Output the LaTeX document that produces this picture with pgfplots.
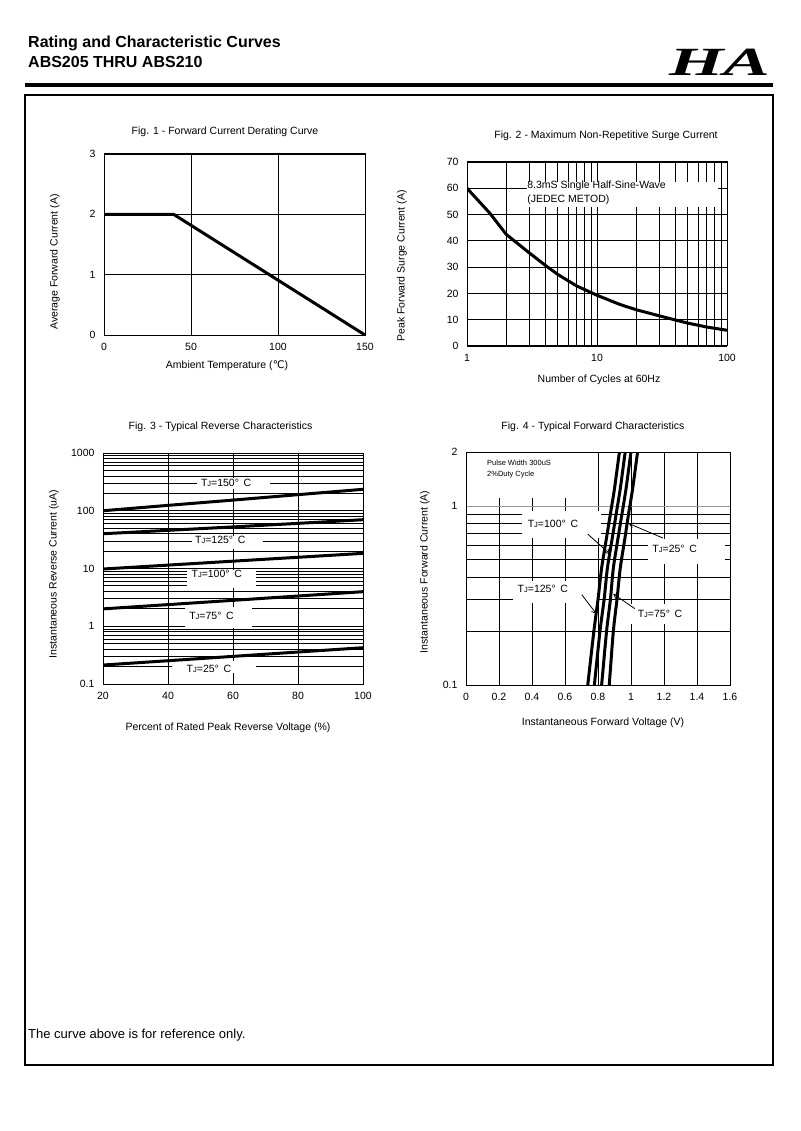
\documentclass[border=0pt]{standalone}
\usepackage{fontspec}
\setmainfont{Liberation Sans}
\newfontfamily\dejavu{DejaVu Sans}
\newfontfamily\logofont{Liberation Serif}
\usepackage{pgfplots}
\pgfplotsset{compat=1.18}
\usetikzlibrary{arrows.meta}

\newcommand\fs{\fontsize{10.5}{12.6}\selectfont}
\newcommand\TJ[1]{T{\fontsize{7.5}{9}\selectfont J}=#1°\hspace{0.45em}C}

\pgfplotsset{
  dsheet/.style={
    scale only axis,
    anchor=north west,
    axis line style={line width=1pt},
    grid=both,
    major grid style={black, line width=0.8pt},
    minor grid style={black, line width=0.8pt},
    major tick length=0pt, minor tick length=0pt,
    tick label style={font=\fs},
    /pgf/number format/assume math mode=true,
    xticklabel style={yshift=-5pt},
    yticklabel style={xshift=-5pt},
  },
  curve/.style={black, line width=3pt, no marks},
}
\tikzset{
  lbl/.style={font=\fs, inner sep=0pt},
  arr/.style={black, line width=0.8pt, -{Straight Barb[length=4pt,width=5pt]}},
}

\begin{document}
\begin{tikzpicture}
\path[use as bounding box] (0,0) rectangle (800pt,-1131pt);

% header
\node[anchor=west, inner sep=0, font=\bfseries\fontsize{16}{19}\selectfont] at (28pt,-43pt) {Rating and Characteristic Curves};
\node[anchor=west, inner sep=0, font=\bfseries\fontsize{16}{19}\selectfont] at (28pt,-62pt) {ABS205 THRU ABS210};
\node[inner sep=0, xscale=1.75, font=\logofont\bfseries\itshape\fontsize{40}{40}\selectfont] at (720pt,-62pt) {HA};
\draw[line width=3.5pt] (25pt,-85pt) -- (773pt,-85pt);
\draw[line width=1.3pt] (25pt,-95pt) rectangle (773pt,-1065pt);
\node[anchor=west, inner sep=0, font=\fontsize{13}{15}\selectfont] at (28pt,-1035pt) {The curve above is for reference only.};

% titles and axis labels
\node[font=\fs] at (225pt,-132pt) {Fig. 1 - Forward Current Derating Curve};
\node[font=\fs] at (606pt,-136pt) {Fig. 2 - Maximum Non-Repetitive Surge Current};
\node[font=\fs] at (220.5pt,-427pt) {Fig. 3 - Typical Reverse Characteristics};
\node[font=\fs] at (593pt,-427pt) {Fig. 4 - Typical Forward Characteristics};

\node[font=\fs] at (227pt,-366pt) {Ambient Temperature ({\dejavu ℃})};
\node[font=\fs] at (599pt,-380pt) {Number of Cycles at 60Hz};
\node[font=\fs] at (228pt,-728pt) {Percent of Rated Peak Reverse Voltage (\%)};
\node[font=\fs] at (603pt,-723pt) {Instantaneous Forward Voltage (V)};

\node[font=\fs, rotate=90] at (55pt,-262pt) {Average Forward Current (A)};
\node[font=\fs, rotate=90] at (402pt,-266pt) {Peak Forward Surge Current (A)};
\node[font=\fs, rotate=90] at (54pt,-574pt) {Instantaneous Reverse Current (uA)};
\node[font=\fs, rotate=90] at (425pt,-572pt) {Instantaneous Forward Current (A)};

% Fig. 1
\begin{axis}[dsheet, at={(104pt,-154pt)}, width=261pt, height=181pt,
  xmin=0, xmax=150, ymin=0, ymax=3,
  xtick={0,50,100,150}, ytick={0,1,2,3}]
\addplot[curve] coordinates {(0,2) (40,2) (150,0)};
\end{axis}

% Fig. 2
\begin{axis}[dsheet, at={(467pt,-162pt)}, width=260pt, height=184pt,
  xmode=log, xmin=1, xmax=100, ymin=0, ymax=70,
  xtick={1,10,100}, xticklabels={1,10,100},
  minor xtick={2,3,4,5,6,7,8,9,20,30,40,50,60,70,80,90},
  ytick={0,10,20,30,40,50,60,70}]
\fill[white] (axis cs:2.9,52.8) rectangle (axis cs:85,62.5);
\addplot[curve, line join=round] coordinates {
  (1,60) (1.5,50.5) (2,42.5) (3,35.5) (4,30.7) (5,27.2) (7,22.8) (10,19.3)
  (15,15.8) (20,13.8) (30,11.5) (40,9.9) (50,8.7) (70,7.2) (100,6)};
\node[lbl, anchor=west] at (axis cs:2.9,60.9) {8.3mS Single Half-Sine-Wave};
\node[lbl, anchor=west] at (axis cs:2.9,55.5) {(JEDEC METOD)};
\end{axis}

% Fig. 3
\begin{axis}[dsheet, at={(103pt,-453pt)}, width=260pt, height=231pt,
  ymode=log, xmin=20, xmax=100, ymin=0.1, ymax=1000,
  xtick={20,40,60,80,100},
  ytick={0.1,1,10,100,1000}, yticklabels={0.1,1,10,100,1000},
  minor ytick={0.2,0.3,0.4,0.5,0.6,0.7,0.8,0.9,2,3,4,5,6,7,8,9,
    20,30,40,50,60,70,80,90,200,300,400,500,600,700,800,900}]
\fill[white] (axis cs:48.9,238) rectangle (axis cs:71.4,369);
\fill[white] (axis cs:47.4,21.8) rectangle (axis cs:69.2,36.5);
\fill[white] (axis cs:45.8,4.63) rectangle (axis cs:67.1,9.6);
\fill[white] (axis cs:45.2,0.93) rectangle (axis cs:65.8,2.15);
\fill[white] (axis cs:41.2,0.155) rectangle (axis cs:67.1,0.25);
\addplot[curve] coordinates {(20,100) (40,124) (60,153) (80,190) (100,235)};
\addplot[curve] coordinates {(20,40) (40,45.8) (60,52.5) (80,60.5) (100,70)};
\addplot[curve] coordinates {(20,9.8) (40,11.45) (60,13.4) (80,15.65) (100,18.3)};
\addplot[curve] coordinates {(20,2.0) (40,2.37) (60,2.81) (80,3.34) (100,3.97)};
\addplot[curve] coordinates {(20,0.213) (40,0.253) (60,0.301) (80,0.358) (100,0.425)};
\node[lbl] at (axis cs:57.9,306) {\TJ{150}};
\node[lbl] at (axis cs:56.1,31.2) {\TJ{125}};
\node[lbl] at (axis cs:55.0,7.94) {\TJ{100}};
\node[lbl] at (axis cs:53.4,1.504) {\TJ{75}};
\node[lbl] at (axis cs:52.6,0.18) {\TJ{25}};
\end{axis}

% Fig. 4
\begin{axis}[dsheet, at={(466pt,-452pt)}, width=264pt, height=233pt,
  ymode=log, xmin=0, xmax=1.6, ymin=0.1, ymax=2,
  xtick={0,0.2,0.4,0.6,0.8,1,1.2,1.4,1.6},
  xticklabels={0,0.2,0.4,0.6,0.8,1,1.2,1.4,1.6},
  ytick={0.1,1,2}, yticklabels={0.1,1,2},
  minor ytick={0.2,0.3,0.4,0.5,0.6,0.7,0.8,0.9},
  major y grid style={black!40, line width=0.8pt}]
\fill[white] (axis cs:0.006,1.107) rectangle (axis cs:0.77,1.985);
\fill[white] (axis cs:0.34,0.66) rectangle (axis cs:0.82,0.938);
\fill[white] (axis cs:1.10,0.476) rectangle (axis cs:1.57,0.656);
\fill[white] (axis cs:0.285,0.286) rectangle (axis cs:0.80,0.383);
\fill[white] (axis cs:0.993,0.218) rectangle (axis cs:1.356,0.285);
\addplot[curve, smooth] coordinates {(0.733,0.09) (0.738,0.1) (0.775,0.2) (0.800,0.3) (0.822,0.45) (0.85,0.65) (0.875,0.9) (0.90,1.25) (0.93,2) (0.94,2.2)};
\addplot[curve, smooth] coordinates {(0.773,0.09) (0.778,0.1) (0.812,0.2) (0.837,0.3) (0.857,0.45) (0.885,0.65) (0.91,0.9) (0.935,1.25) (0.965,2) (0.975,2.2)};
\addplot[curve, smooth] coordinates {(0.817,0.09) (0.822,0.1) (0.852,0.2) (0.875,0.3) (0.893,0.45) (0.92,0.65) (0.945,0.9) (0.97,1.25) (1.0,2) (1.01,2.2)};
\addplot[curve, smooth] coordinates {(0.863,0.09) (0.868,0.1) (0.893,0.2) (0.915,0.3) (0.935,0.45) (0.962,0.65) (0.985,0.9) (1.01,1.25) (1.04,2) (1.05,2.2)};
\node[inner sep=0, anchor=west, font=\fontsize{7.5}{9}\selectfont] at (axis cs:0.127,1.733) {Pulse Width 300uS};
\node[inner sep=0, anchor=west, font=\fontsize{7.5}{9}\selectfont] at (axis cs:0.127,1.506) {2\%Duty Cycle};
\node[lbl] at (axis cs:0.527,0.797) {\TJ{100}};
\node[lbl] at (axis cs:1.265,0.577) {\TJ{25}};
\node[lbl] at (axis cs:0.466,0.346) {\TJ{125}};
\node[lbl] at (axis cs:1.176,0.251) {\TJ{75}};
\draw[arr] (axis cs:0.738,0.696) -- (axis cs:0.872,0.540);
\draw[arr] (axis cs:1.193,0.662) -- (axis cs:0.987,0.797);
\draw[arr] (axis cs:0.702,0.319) -- (axis cs:0.790,0.250);
\draw[arr] (axis cs:1.023,0.267) -- (axis cs:0.892,0.323);
\end{axis}
\end{tikzpicture}
\end{document}
